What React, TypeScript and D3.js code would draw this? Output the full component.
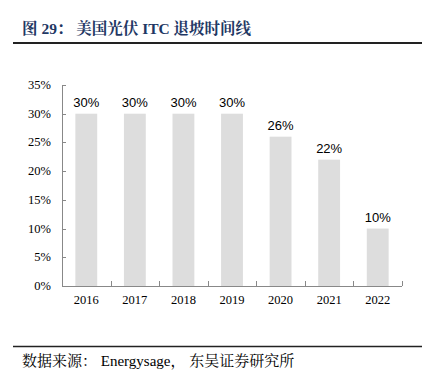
import React from "react";
import * as d3 from "d3";

const years = ["2016", "2017", "2018", "2019", "2020", "2021", "2022"];
const itcRates = [30, 30, 30, 30, 26, 22, 10];
const yTicks = [0, 5, 10, 15, 20, 25, 30, 35];
const titleText = "图 29： 美国光伏 ITC 退坡时间线";
const sourceText = "数据来源： Energysage， 东吴证券研究所";

export default function App() {
  const W = 425, H = 380;
  const left = 62, right = 402, top = 85, bottom = 286;
  const x = d3.scaleBand<string>().domain(years).range([left, right]).paddingInner(0.55).paddingOuter(0.275);
  const xb = d3.scaleBand<string>().domain(years).range([left, right]);
  const y = d3.scaleLinear().domain([0, 35]).range([bottom, top]);
  const serif = "'Liberation Serif', 'Times New Roman', serif";
  const sans = "'Liberation Sans', Arial, sans-serif";
  const cjk = "'Noto Serif CJK SC', 'Noto Sans CJK SC', sans-serif";
  return (
    <svg width={W} height={H} style={{ position: "absolute", left: 0, top: 0, background: "#fff" }}>
      <text x={22} y={34} fontFamily={`${serif}, ${cjk}`} fontWeight="bold" fontSize={15.5} fill="#1F3864">{titleText}</text>
      <line x1={13} x2={422} y1={43} y2={43} stroke="#222" strokeWidth={2} />
      {years.map((yr, i) => (
        <g key={yr}>
          <rect x={x(yr)} y={y(itcRates[i])} width={x.bandwidth()} height={bottom - y(itcRates[i])} fill="#DDDDDD" />
          <text x={x(yr)! + x.bandwidth() / 2} y={y(itcRates[i]) - 7} textAnchor="middle" fontFamily={sans} fontSize={13} fill="#000">{itcRates[i]}%</text>
          <text x={xb(yr)! + xb.bandwidth() / 2} y={bottom + 18} textAnchor="middle" fontFamily={serif} fontSize={12.5} fill="#000">{yr}</text>
        </g>
      ))}
      <line x1={left + 0.5} x2={left + 0.5} y1={top} y2={bottom} stroke="#888" />
      <line x1={left} x2={right} y1={bottom + 0.5} y2={bottom + 0.5} stroke="#888" />
      {yTicks.map((t) => (
        <g key={t}>
          <line x1={left} x2={left + 4} y1={Math.round(y(t)) + 0.5} y2={Math.round(y(t)) + 0.5} stroke="#888" />
          <text x={left - 11} y={y(t) + 4} textAnchor="end" fontFamily={serif} fontSize={12.5} fill="#000">{t}%</text>
        </g>
      ))}
      {years.map((yr) => (
        <line key={"t" + yr} x1={Math.round(xb(yr)! + xb.bandwidth()) + 0.5} x2={Math.round(xb(yr)! + xb.bandwidth()) + 0.5} y1={bottom - 5} y2={bottom} stroke="#888" />
      ))}
      <line x1={13} x2={422} y1={346.5} y2={346.5} stroke="#222" strokeWidth={1.5} />
      <text x={22} y={366} fontFamily={`${serif}, ${cjk}`} fontSize={15} fill="#000">{sourceText}</text>
    </svg>
  );
}
